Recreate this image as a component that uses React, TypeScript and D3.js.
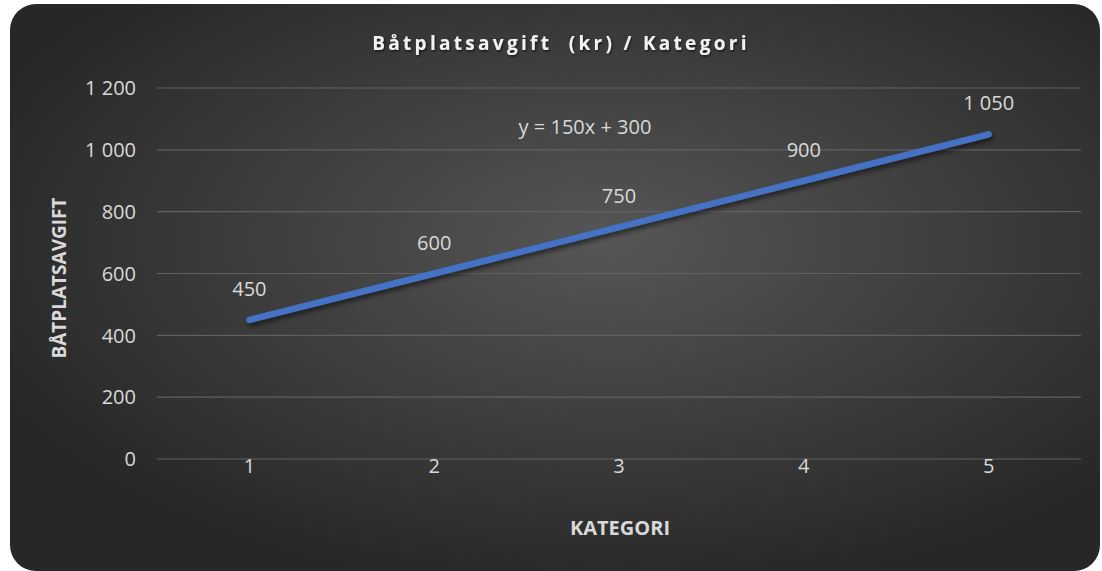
import * as d3 from "d3";

const categories = [1, 2, 3, 4, 5];
const fees = [450, 600, 750, 900, 1050];
const yTicks = [0, 200, 400, 600, 800, 1000, 1200];
const titleText = "Båtplatsavgift  (kr) / Kategori";
const equation = "y = 150x + 300";

const W = 1102;
const H = 571;

const locale = d3.formatLocale({
  decimal: ",",
  thousands: " ",
  grouping: [3],
  currency: ["", " kr"],
});
const fmt = locale.format(",d");

const App = () => {
  const x = d3
    .scaleBand<number>()
    .domain(categories)
    .range([157, 1081])
    .paddingInner(0)
    .paddingOuter(0);
  const cx = (c: number) => (x(c) ?? 0) + x.bandwidth() / 2;
  const y = d3.scaleLinear().domain([0, 1200]).range([459, 88]);

  const line = d3
    .line<number>()
    .x((_, i) => cx(categories[i]))
    .y((d) => y(d));

  const font = "'Open Sans', 'Noto Sans', sans-serif";
  const labelSize = 20;

  return (
    <svg
      width={W}
      height={H}
      style={{ position: "absolute", left: 0, top: 0 }}
      fontFamily={font}
    >
      <defs>
        <radialGradient id="bg" cx="0.55" cy="0.42" r="0.62">
          <stop offset="0" stopColor="#565656" />
          <stop offset="1" stopColor="#272727" />
        </radialGradient>
        <filter id="shadow" x="-10%" y="-50%" width="120%" height="200%">
          <feDropShadow dx="2" dy="3" stdDeviation="2.5" floodColor="#000" floodOpacity="0.55" />
        </filter>
        <filter id="tshadow" x="-10%" y="-50%" width="120%" height="200%">
          <feDropShadow dx="1" dy="1.5" stdDeviation="1" floodColor="#000" floodOpacity="0.6" />
        </filter>
      </defs>

      <rect x={0} y={0} width={W} height={H} fill="#fff" />
      <rect x={10} y={4} width={1090} height={567} rx={26} fill="url(#bg)" />

      {/* grid */}
      {yTicks.map((t) => (
        <line
          key={t}
          x1={157}
          x2={1081}
          y1={y(t)}
          y2={y(t)}
          stroke="#606060"
          strokeWidth={1.2}
        />
      ))}

      {/* y tick labels */}
      {yTicks.map((t) => (
        <text
          key={"l" + t}
          x={136}
          y={y(t)}
          dy="0.36em"
          textAnchor="end"
          fontSize={labelSize}
          fill="#d9d9d9"
        >
          {fmt(t)}
        </text>
      ))}

      {/* x tick labels */}
      {categories.map((c) => (
        <text
          key={"x" + c}
          x={cx(c)}
          y={466}
          dy="0.36em"
          textAnchor="middle"
          fontSize={labelSize}
          fill="#d9d9d9"
        >
          {c}
        </text>
      ))}

      {/* series line */}
      <path
        d={line(fees) ?? ""}
        fill="none"
        stroke="#4472c4"
        strokeWidth={6.5}
        strokeLinecap="round"
        strokeLinejoin="round"
        filter="url(#shadow)"
      />

      {/* data labels */}
      {fees.map((v, i) => (
        <text
          key={"d" + i}
          x={cx(categories[i])}
          y={y(v) - 24}
          textAnchor="middle"
          fontSize={labelSize}
          fill="#d9d9d9"
        >
          {fmt(v)}
        </text>
      ))}

      {/* trendline equation */}
      <text x={585} y={134} textAnchor="middle" fontSize={labelSize} fill="#d9d9d9">
        {equation}
      </text>

      {/* title */}
      <text
        x={561}
        y={50}
        textAnchor="middle"
        fontSize={19}
        fontWeight="bold"
        letterSpacing={3.3}
        fill="#f2f2f2"
        filter="url(#tshadow)"
        style={{ whiteSpace: "pre" }}
      >
        {titleText}
      </text>

      {/* axis titles */}
      <text
        transform={`translate(66,278) rotate(-90)`}
        textAnchor="middle"
        fontSize={19}
        fontWeight="bold"
        fill="#d9d9d9"
      >
        BÅTPLATSAVGIFT
      </text>
      <text x={620} y={535} textAnchor="middle" fontSize={20} fontWeight="bold" fill="#d9d9d9">
        KATEGORI
      </text>
    </svg>
  );
};

export default App;
